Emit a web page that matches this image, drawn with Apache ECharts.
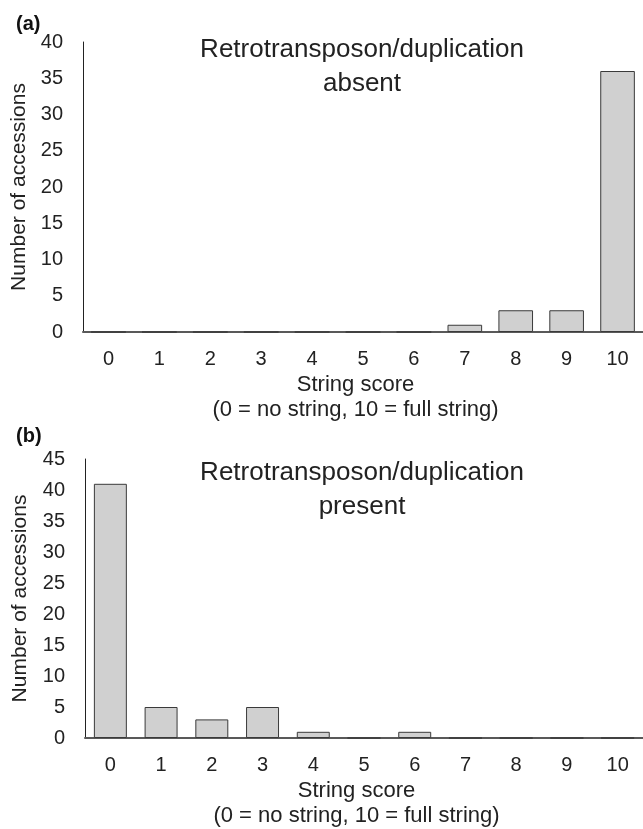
<!DOCTYPE html>
<html><head><meta charset="utf-8">
<script src="https://cdn.jsdelivr.net/npm/echarts@6/dist/echarts.min.js"></script>
<style>html,body{margin:0;padding:0;background:#fff}#c{width:643px;height:829px}</style>
</head><body><div id="c"></div>
<script>
const categories = ['0','1','2','3','4','5','6','7','8','9','10'];
const absentValues = [0,0,0,0,0,0,0,1,3,3,36];
const presentValues = [41,5,3,5,1,0,1,0,0,0,0];
const yTicksA = {min:0, max:40, interval:5};
const yTicksB = {min:0, max:45, interval:5};
const FONT = 'Liberation Sans, Arial, sans-serif';

const chart = echarts.init(document.getElementById('c'), null, {renderer:'canvas'});
const xAxisBase = (gi, m, g) => ({
  type:'category', gridIndex:gi, data:categories,
  axisLine:{show:true, lineStyle:{color:'#595959', width:2}},
  axisTick:{show:false},
  axisLabel:{color:'#222', fontFamily:FONT, fontSize:20, margin:m},
  name:'String score\n(0 = no string, 10 = full string)',
  nameLocation:'middle', nameGap:g,
  nameTextStyle:{color:'#222', fontFamily:FONT, fontSize:22, lineHeight:25, verticalAlign:'top', padding:[0,15,0,0]}
});
const yAxisBase = (gi, t, g) => ({
  type:'value', gridIndex:gi, min:t.min, max:t.max, interval:t.interval,
  axisLine:{show:true, lineStyle:{color:'#222', width:1}},
  axisTick:{show:false}, splitLine:{show:false},
  axisLabel:{color:'#222', fontFamily:FONT, fontSize:20, margin:20},
  name:'Number of accessions', nameLocation:'middle', nameGap:g, nameRotate:90,
  nameTextStyle:{color:'#222', fontFamily:FONT, fontSize:21}
});
const barStyle = {color:'#d0d0d0', borderColor:'#3a3a3a', borderWidth:1};
chart.setOption({
  animation:false,
  title:[
    {text:'(a)', left:11, top:9, textStyle:{fontFamily:FONT, fontSize:20, fontWeight:'bold', color:'#111'}},
    {text:'(b)', left:11, top:421, textStyle:{fontFamily:FONT, fontSize:20, fontWeight:'bold', color:'#111'}},
    {text:'Retrotransposon/duplication\nabsent', left:357, top:28, textAlign:'center',
     textStyle:{fontFamily:FONT, fontSize:26, fontWeight:'normal', color:'#222', lineHeight:34, align:'center'}},
    {text:'Retrotransposon/duplication\npresent', left:357, top:451, textAlign:'center',
     textStyle:{fontFamily:FONT, fontSize:26, fontWeight:'normal', color:'#222', lineHeight:34, align:'center'}}
  ],
  grid:[
    {left:83, top:42, width:563, height:290},
    {left:85, top:459, width:563, height:280}
  ],
  xAxis:[xAxisBase(0, 17, 40), xAxisBase(1, 17, 40)],
  yAxis:[yAxisBase(0, yTicksA, 52), yAxisBase(1, yTicksB, 54)],
  series:[
    {type:'bar', xAxisIndex:0, yAxisIndex:0, data:absentValues, barCategoryGap:'32%', itemStyle:barStyle},
    {type:'bar', xAxisIndex:1, yAxisIndex:1, data:presentValues, barCategoryGap:'35%', itemStyle:barStyle}
  ]
});
</script></body></html>
